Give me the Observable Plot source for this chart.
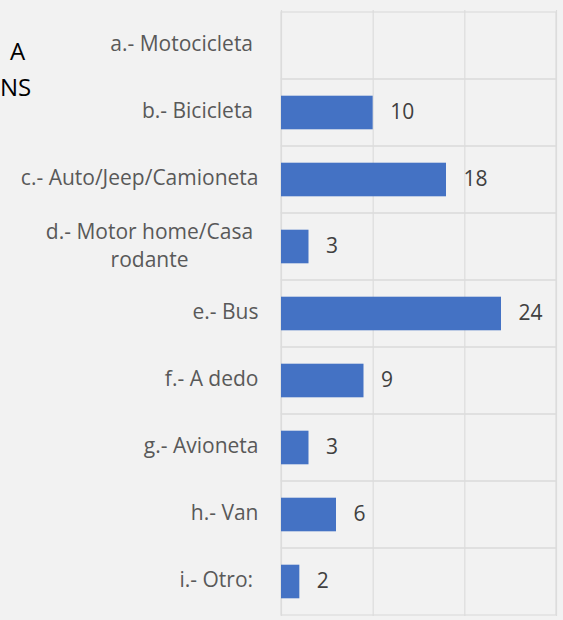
<!DOCTYPE html>
<html><head><meta charset="utf-8">
<script src="https://cdn.jsdelivr.net/npm/d3@7"></script>
<script src="https://cdn.jsdelivr.net/npm/@observablehq/plot@0.6"></script>
<style>
html,body{margin:0;padding:0;background:#f2f2f2;}
#wrap{position:relative;width:563px;height:620px;overflow:hidden;background:#f2f2f2;}
#wrap svg{position:absolute;left:0;top:0;}
.side{position:absolute;font-family:"Open Sans", sans-serif;font-size:24px;color:#000;line-height:1;}
</style></head><body>
<div id="wrap">
  <div class="side" style="left:10px;top:39px">A</div>
  <div class="side" style="left:0px;top:75px">NS</div>
</div>
<script>
const categories = [
  "a.- Motocicleta\u00a0",
  "b.- Bicicleta\u00a0",
  "c.- Auto/Jeep/Camioneta",
  "d.- Motor home/Casa\nrodante",
  "e.- Bus",
  "f.- A dedo",
  "g.- Avioneta",
  "h.- Van",
  "i.- Otro:\u00a0"
];
const values = [null, 10, 18, 3, 24, 9, 3, 6, 2];
const xTicks = [0, 10, 20, 30];
const wrappedCategory = "d.- Motor home/Casa\nrodante";

const data = categories.map((c, i) => ({cat: c, value: values[i]}));
const bars = data.filter(d => d.value != null);

const plot = Plot.plot({
  width: 563,
  height: 620,
  marginLeft: 281,
  marginRight: 7,
  marginTop: 10,
  marginBottom: 4,
  style: {background: "transparent", fontFamily: "'Open Sans', sans-serif", fontSize: "19px", color: "#595959"},
  x: {domain: [0, 30], axis: null},
  y: {domain: categories, axis: null, padding: 0},
  marks: [
    Plot.barX(categories, {y: d => d, x1: xTicks[0], x2: xTicks[xTicks.length - 1], fill: "none", stroke: "#dcdcdc", strokeWidth: 1.2}),
    Plot.ruleX(xTicks, {stroke: "#dcdcdc", strokeWidth: 1.2}),
    Plot.barX(bars, {x: "value", y: "cat", fill: "#4472C4", insetTop: 16.7, insetBottom: 16.7}),
    Plot.text(bars, {x: "value", y: "cat", text: d => String(d.value), dx: 17, dy: -1, textAnchor: "start", fill: "#404040", fontSize: 21}),
    Plot.text(data.filter(d => d.cat !== wrappedCategory), {y: "cat", frameAnchor: "left", dx: -23, dy: -1.5, textAnchor: "end", text: "cat", fill: "#595959", fontSize: 21}),
    Plot.text(data.filter(d => d.cat === wrappedCategory), {y: "cat", frameAnchor: "left", dx: -132, dy: -3, textAnchor: "middle", text: "cat", fill: "#595959", fontSize: 21, lineHeight: 1.34})
  ]
});
document.getElementById("wrap").appendChild(plot);
</script>
</body></html>
